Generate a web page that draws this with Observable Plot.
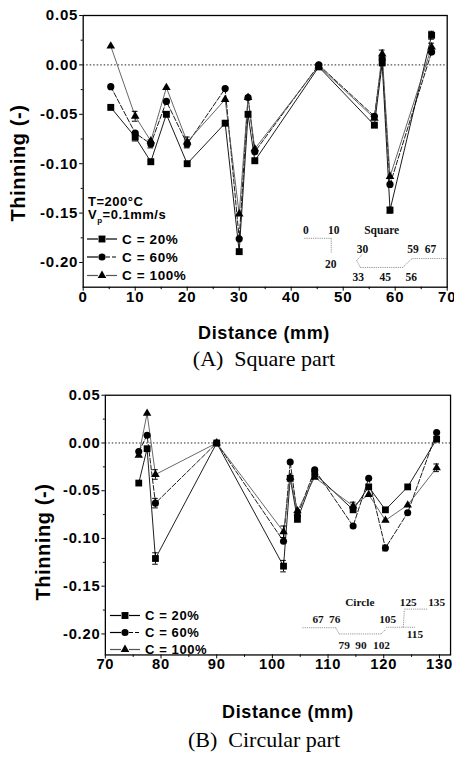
<!DOCTYPE html>
<html><head><meta charset="utf-8">
<script src="https://cdn.jsdelivr.net/npm/d3@7"></script>
<script src="https://cdn.jsdelivr.net/npm/@observablehq/plot@0.6"></script>
<style>
body{margin:0;background:#fff;}
#wrap{position:relative;width:454px;height:759px;overflow:hidden;background:#fff;}
#wrap > svg{position:absolute;left:0;}
g[aria-label="y-axis tick label"] text, g[aria-label="x-axis tick label"] text{letter-spacing:0.8px;}
</style></head>
<body><div id="wrap"></div>
<script>
// ---------- DATA: (A) Square part ----------
const distA = [5.3, 10, 13, 16, 20, 27.3, 30, 31.7, 33, 45.3, 56, 57.5, 59, 67];
const c20A  = [-0.043, -0.073, -0.098, -0.050, -0.100, -0.059, -0.189, -0.050, -0.097, -0.002, -0.061, 0.002, -0.147, 0.030];
const c60A  = [-0.022, -0.069, -0.080, -0.037, -0.080, -0.024, -0.176, -0.033, -0.088, 0.000, -0.052, 0.006, -0.121, 0.013];
const c100A = [0.019, -0.052, -0.077, -0.023, -0.078, -0.035, -0.151, -0.033, -0.085, -0.001, -0.054, 0.011, -0.113, 0.018];
const e20A  = [0, 0.004, 0, 0, 0, 0, 0, 0, 0, 0, 0, 0, 0.003, 0.004];
const e60A  = [0, 0, 0.004, 0, 0.004, 0, 0, 0, 0, 0, 0, 0, 0, 0];
const e100A = [0, 0.005, 0, 0, 0.005, 0, 0, 0, 0, 0, 0, 0.004, 0, 0.004];

// ---------- DATA: (B) Circular part ----------
const distB = [76, 77.5, 79, 90, 102, 103.2, 104.5, 107.6, 114.5, 117.3, 120.3, 124.3, 129.5];
const c20B  = [-0.042, -0.006, -0.121, 0, -0.129, -0.037, -0.080, -0.032, -0.070, -0.046, -0.070, -0.046, 0.004];
const c60B  = [-0.009, 0.008, -0.063, 0, -0.103, -0.020, -0.076, -0.028, -0.087, -0.037, -0.110, -0.073, 0.011];
const c100B = [-0.013, 0.031, -0.033, 0, -0.093, -0.036, -0.071, -0.036, -0.066, -0.054, -0.081, -0.065, -0.026];
const e20B  = [0, 0, 0.006, 0, 0.006, 0, 0, 0, 0, 0, 0, 0, 0];
const e60B  = [0, 0, 0.005, 0, 0, 0, 0, 0, 0, 0, 0.003, 0, 0];
const e100B = [0, 0, 0.005, 0, 0.006, 0, 0, 0, 0.004, 0, 0, 0, 0.004];

// ---------- ticks ----------
const yMajor = [-0.20, -0.15, -0.10, -0.05, 0.00, 0.05];
const yMinor = [-0.175, -0.125, -0.075, -0.025, 0.025];
const xMajorA = [0, 10, 20, 30, 40, 50, 60, 70];
const xMinorA = [5, 15, 25, 35, 45, 55, 65];
const xMajorB = [70, 80, 90, 100, 110, 120, 130];
const xMinorB = [75, 85, 95, 105, 115, 125];

// ---------- inset schematics (annotation labels) ----------
const insetTextA = ["0", "10", "Square", "30", "20", "59", "67", "33", "45", "56"];
const insetXA = [42.8, 48.2, 57.4, 53.7, 47.6, 63.4, 66.8, 52.9, 58.1, 63.1];
const insetYA = [-0.167, -0.167, -0.167, -0.187, -0.202, -0.187, -0.187, -0.2147, -0.2147, -0.2147];
const insetSegA = [[42.5,-0.1755,47.7,-0.1755],[47.7,-0.1755,47.7,-0.19],[52.6,-0.198,53.6,-0.192],[52.6,-0.198,53.3,-0.205],
  [53.3,-0.205,61.5,-0.205],[61.5,-0.205,62.4,-0.2],[62.4,-0.2,63.3,-0.196],[63.3,-0.196,70,-0.196]];
const insetTextB = ["Circle", "125", "135", "67", "76", "105", "115", "79", "90", "102"];
const insetXB = [115.7, 124.4, 129.5, 108.2, 111.2, 120.7, 125.6, 112.9, 115.9, 119.6];
const insetYB = [-0.1674, -0.167, -0.167, -0.185, -0.185, -0.185, -0.2004, -0.212, -0.212, -0.212];
const insetSegB = [[105.4,-0.1935,111.4,-0.1935],[111.4,-0.1935,112,-0.2],[112,-0.2,119.5,-0.2],[119.5,-0.2,120.4,-0.195],
  [120.4,-0.193,125.6,-0.193],[123.5,-0.193,123.7,-0.175],[123.7,-0.174,127.8,-0.174]];

const seriesNames = ["C = 20%", "C = 60%", "C = 100%"];
const styles = [
  {symbol:"square", r:3.9, stroke:"#000", dash:null},
  {symbol:"circle", r:3.6, stroke:"#000", dash:"5,2"},
  {symbol:"triangle", r:3.2, stroke:"#555", dash:null}
];

function rows(xs, ys, es){ return xs.map((x,i)=>({x, y:ys[i], e:es[i]})); }

function chart(o){
  const sets = o.series.map(s=>rows(o.xs, s[0], s[1]));
  const marks = [
    Plot.ruleY([0], {stroke:"#222", strokeDasharray:"1.5,2", strokeWidth:1}),
    Plot.link(o.seg, {x1:d=>d[0], y1:d=>d[1], x2:d=>d[2], y2:d=>d[3], stroke:"#888", strokeWidth:0.9, strokeDasharray:"1.2,1"}),
    Plot.text(o.itext.map((t,i)=>({t, x:o.ix[i], y:o.iy[i]})), {x:"x", y:"y", text:"t", fontFamily:"Liberation Serif, Times New Roman, serif", fontWeight:"bold", fontSize:11.5, fill:"#111"})
  ];
  sets.forEach((data,k)=>{
    const st = styles[k];
    marks.push(Plot.line(data, {x:"x", y:"y", stroke:st.stroke, strokeWidth:0.9, strokeDasharray:st.dash}));
  });
  sets.forEach((data,k)=>{
    const eb = data.filter(d=>d.e>0);
    marks.push(Plot.ruleX(eb, {x:"x", y1:d=>d.y-d.e, y2:d=>d.y+d.e, stroke:"#000", strokeWidth:1}));
    marks.push(Plot.ruleY(eb, {y:d=>d.y+d.e, x1:d=>d.x-o.cap, x2:d=>d.x+o.cap, stroke:"#000", strokeWidth:1}));
    marks.push(Plot.ruleY(eb, {y:d=>d.y-d.e, x1:d=>d.x-o.cap, x2:d=>d.x+o.cap, stroke:"#000", strokeWidth:1}));
  });
  sets.forEach((data,k)=>{
    const st = styles[k];
    marks.push(Plot.dot(data, {x:"x", y:"y", symbol:st.symbol, r:st.r, fill:"#000", stroke:"none"}));
  });
  marks.push(
    Plot.frame({stroke:"#000", strokeWidth:1.3}),
    Plot.axisY({ticks:yMajor, tickFormat:d=>d.toFixed(2), tickSize:3.5, tickPadding:1.5, label:null}),
    Plot.axisY({ticks:yMinor, tickFormat:()=>"", tickSize:2, label:null}),
    Plot.axisX({ticks:o.xMajor, tickFormat:d=>String(d), tickSize:4, tickPadding:0, label:null}),
    Plot.axisX({ticks:o.xMinor, tickFormat:()=>"", tickSize:2.5, label:null})
  );
  return Plot.plot({
    width:o.width, height:o.height,
    marginLeft:o.ml, marginRight:o.mr, marginTop:o.mt, marginBottom:o.mb,
    x:{domain:o.xdom}, y:{domain:o.ydom},
    style:{fontFamily:"Liberation Sans, Arial, sans-serif", fontSize:"15px", fontWeight:"bold", color:"#000", background:"transparent", overflow:"visible"},
    marks
  });
}

const wrap = document.getElementById("wrap");

const pA = chart({
  xs:distA, series:[[c20A,e20A],[c60A,e60A],[c100A,e100A]],
  width:454, height:320, ml:82.7, mr:7.3, mt:15, mb:33.3,
  xdom:[0,70], ydom:[-0.225,0.05], xMajor:xMajorA, xMinor:xMinorA, cap:0.55,
  itext:insetTextA, ix:insetXA, iy:insetYA, seg:insetSegA
});
pA.style.top = "0px";
wrap.appendChild(pA);

const pB = chart({
  xs:distB, series:[[c20B,e20B],[c60B,e60B],[c100B,e100B]],
  width:462, height:310, ml:106.7, mr:4, mt:15, mb:30.7,
  xdom:[70,132], ydom:[-0.222,0.05], xMajor:xMajorB, xMinor:xMinorB, cap:0.5,
  itext:insetTextB, ix:insetXB, iy:insetYB, seg:insetSegB
});
pB.style.top = "380px";
wrap.appendChild(pB);

// ---------- overlay: titles, captions, legends ----------
const ov = d3.select(wrap).append("svg").attr("width",454).attr("height",759).style("top","0px").style("pointer-events","none");
const sans = "Liberation Sans, Arial, sans-serif", serif = "Liberation Serif, Times New Roman, serif";

function ytitle(x,y){
  ov.append("text").attr("transform",`translate(${x},${y}) rotate(-90)`).attr("text-anchor","middle")
    .attr("font-family",sans).attr("font-weight","bold").attr("font-size",20).attr("letter-spacing","0.6px").text("Thinning (-)");
}
function xtitle(x,y){
  ov.append("text").attr("x",x).attr("y",y).attr("text-anchor","middle")
    .attr("font-family",sans).attr("font-weight","bold").attr("font-size",18).attr("letter-spacing","0.6px").text("Distance (mm)");
}
function caption(x,y,t){
  ov.append("text").attr("x",x).attr("y",y).attr("text-anchor","middle").style("white-space","pre")
    .attr("font-family",serif).attr("font-size",22).text(t);
}
function legend(x0, ys, fs){
  ys.forEach((y,k)=>{
    const st = styles[k];
    ov.append("line").attr("x1",x0).attr("x2",x0+11).attr("y1",y).attr("y2",y).attr("stroke",st.stroke).attr("stroke-width",1.2);
    ov.append("line").attr("x1",x0+19).attr("x2",x0+30).attr("y1",y).attr("y2",y).attr("stroke",st.stroke).attr("stroke-width",1.2)
      .attr("stroke-dasharray",st.dash ? "4,2" : null);
    const sym = {square:d3.symbolSquare, circle:d3.symbolCircle, triangle:d3.symbolTriangle}[st.symbol];
    ov.append("path").attr("d",d3.symbol(sym, Math.PI*st.r*st.r)()).attr("transform",`translate(${x0+15},${y})`).attr("fill","#000");
    ov.append("text").attr("x",x0+35).attr("y",y).attr("dy","0.36em").attr("font-family",sans).attr("font-weight","bold")
      .attr("font-size",fs).attr("letter-spacing","0.6px").style("white-space","pre").text(seriesNames[k]);
  });
}

ytitle(25,163); xtitle(264,339); caption(264,366,"(A)  Square part");
ytitle(50,542); xtitle(288,718); caption(264,747,"(B)  Circular part");

const cond = ov.append("g").attr("font-family",sans).attr("font-weight","bold").attr("font-size",13).attr("letter-spacing","0.5px");
cond.append("text").attr("x",88).attr("y",205.5).text("T=200°C");
const vp = cond.append("text").attr("x",88).attr("y",219);
vp.append("tspan").text("V");
vp.append("tspan").attr("font-size",8).attr("dy",4).text("p");
vp.append("tspan").attr("dy",-4).text("=0.1mm/s");

legend(87, [239, 257, 275.5], 13.5);
legend(110, [615.5, 632.5, 649.5], 13);
</script>
</body></html>
